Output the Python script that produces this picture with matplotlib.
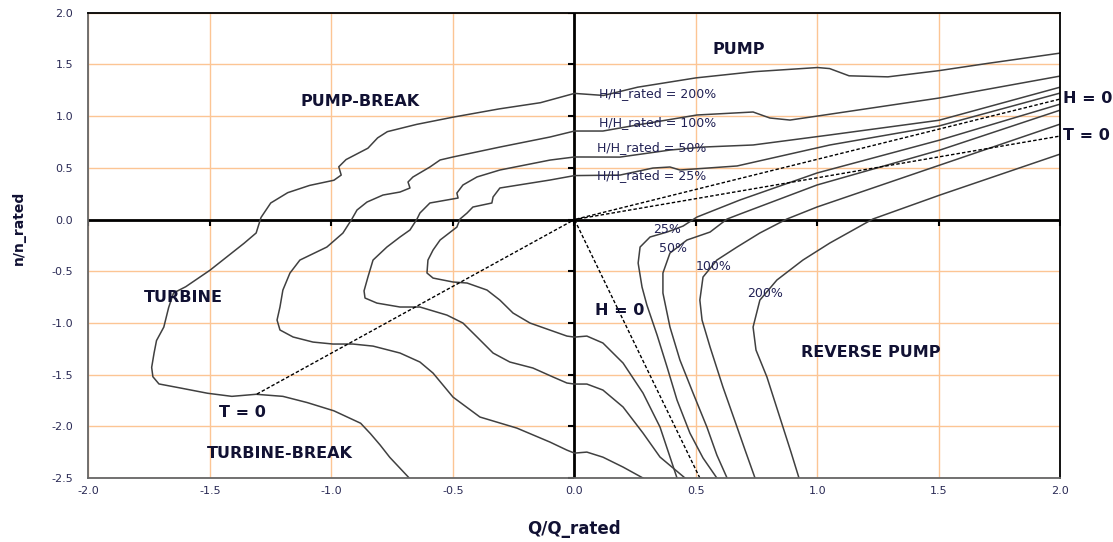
import numpy as np
import matplotlib
matplotlib.use("Agg")
import matplotlib.pyplot as plt

plt.rcParams['font.family'] = ['DejaVu Sans']

# iso-head curves, pump side (Q/Q_rated, n/n_rated)
q_200 = [2.00, 1.70, 1.50, 1.29, 1.13, 1.05, 1.00, 0.74, 0.50, 0.26, 0.12, 0.00, -0.14, -0.31,
         -0.50, -0.65, -0.77, -0.81, -0.85, -0.94, -0.97, -0.96, -0.99, -1.09, -1.18, -1.25,
         -1.29, -1.31, -1.36, -1.43, -1.50, -1.60, -1.65, -1.67, -1.69, -1.72, -1.73, -1.74,
         -1.735, -1.71, -1.62, -1.51, -1.41, -1.31, -1.20, -1.10, -0.99, -0.88, -0.84, -0.80,
         -0.76, -0.68]
n_200 = [1.61, 1.51, 1.44, 1.38, 1.39, 1.46, 1.47, 1.43, 1.37, 1.28, 1.20, 1.22, 1.13, 1.07,
         0.99, 0.92, 0.85, 0.79, 0.69, 0.58, 0.51, 0.43, 0.38, 0.33, 0.26, 0.16,
         0.02, -0.13, -0.23, -0.36, -0.49, -0.65, -0.71, -0.85, -1.04, -1.17, -1.29, -1.43,
         -1.52, -1.59, -1.63, -1.68, -1.71, -1.69, -1.71, -1.77, -1.85, -1.97, -2.07, -2.18,
         -2.30, -2.50]

q_100 = [2.00, 1.50, 1.00, 0.887, 0.804, 0.735, 0.504, 0.257, 0.117, 0.00, -0.101, -0.307,
         -0.50, -0.553, -0.595, -0.665, -0.685, -0.677, -0.718, -0.788, -0.854, -0.895,
         -0.916, -0.953, -1.019, -1.130, -1.171, -1.200, -1.212, -1.224, -1.212, -1.158,
         -1.076, -0.994, -0.912, -0.829, -0.718, -0.636, -0.582, -0.50, -0.389, -0.237,
         -0.101, -0.031, 0.00, 0.051, 0.117, 0.200, 0.282]
n_100 = [1.388, 1.175, 1.001, 0.962, 0.982, 1.040, 1.011, 0.914, 0.856, 0.856, 0.798, 0.701,
         0.605, 0.576, 0.508, 0.411, 0.363, 0.305, 0.266, 0.237, 0.169, 0.092,
         0.005, -0.131, -0.266, -0.392, -0.518, -0.682, -0.846, -0.972, -1.068, -1.136,
         -1.185, -1.204, -1.204, -1.224, -1.291, -1.378, -1.485, -1.717, -1.910, -2.017,
         -2.152, -2.230, -2.259, -2.249, -2.298, -2.394, -2.50]

q_50 = [2.00, 1.50, 1.051, 0.735, 0.529, 0.393, 0.187, 0.00, -0.101, -0.307, -0.401, -0.459,
        -0.484, -0.479, -0.525, -0.595, -0.636, -0.648, -0.677, -0.718, -0.772, -0.829,
        -0.850, -0.866, -0.862, -0.813, -0.718, -0.636, -0.525, -0.459, -0.401, -0.335,
        -0.266, -0.171, -0.088, -0.031, 0.00, 0.051, 0.117, 0.200, 0.282, 0.352, 0.455]
n_50 = [1.281, 0.96, 0.818, 0.721, 0.701, 0.672, 0.604, 0.605, 0.575, 0.479, 0.412, 0.334,
        0.256, 0.208, 0.189, 0.160, 0.063, 0.005, -0.101, -0.169, -0.266, -0.392,
        -0.556, -0.69, -0.759, -0.808, -0.846, -0.846, -0.924, -1.001, -1.136, -1.291,
        -1.378, -1.436, -1.523, -1.581, -1.591, -1.591, -1.649, -1.813, -2.065, -2.297, -2.50]

q_25 = [2.00, 1.50, 1.051, 0.669, 0.434, 0.393, 0.323, 0.187, 0.00, -0.101, -0.307, -0.335,
        -0.340, -0.418, -0.442, -0.471, -0.484, -0.50, -0.553, -0.582, -0.603, -0.607,
        -0.582, -0.50, -0.442, -0.360, -0.307, -0.253, -0.183, -0.101, -0.031, 0.00,
        0.051, 0.117, 0.200, 0.282, 0.352, 0.422]
n_25 = [1.224, 0.905, 0.721, 0.518, 0.479, 0.508, 0.498, 0.430, 0.425, 0.382, 0.305, 0.218,
        0.160, 0.121, 0.063, 0.005, -0.073, -0.102, -0.198, -0.295, -0.392, -0.517,
        -0.566, -0.604, -0.614, -0.682, -0.779, -0.904, -1.001, -1.069, -1.127, -1.137,
        -1.127, -1.194, -1.388, -1.678, -2.007, -2.50]

# iso-head curves, reverse pump side
qr_25 = [2.00, 1.504, 0.998, 0.681, 0.504, 0.447, 0.381, 0.311, 0.270, 0.262, 0.278, 0.298,
         0.340, 0.381, 0.422, 0.475, 0.529, 0.586]
nr_25 = [1.117, 0.769, 0.450, 0.189, 0.024, -0.063, -0.121, -0.169, -0.266, -0.421, -0.653,
         -0.827, -1.117, -1.426, -1.746, -2.065, -2.306, -2.50]

qr_50 = [2.00, 1.504, 0.998, 0.681, 0.628, 0.558, 0.463, 0.393, 0.364, 0.364, 0.393, 0.434,
         0.488, 0.545, 0.586, 0.628]
nr_50 = [1.059, 0.672, 0.334, 0.053, 0.005, -0.121, -0.198, -0.324, -0.517, -0.711, -1.040,
         -1.359, -1.678, -2.007, -2.278, -2.50]

qr_100 = [2.00, 1.504, 0.998, 0.874, 0.763, 0.669, 0.586, 0.529, 0.516, 0.525, 0.558, 0.611,
          0.669, 0.702, 0.743]
nr_100 = [0.924, 0.527, 0.121, 0.005, -0.130, -0.266, -0.392, -0.556, -0.779, -0.972, -1.233,
          -1.620, -2.007, -2.229, -2.50]

qr_200 = [2.00, 1.504, 1.228, 1.051, 0.940, 0.833, 0.763, 0.735, 0.747, 0.792, 0.858, 0.891, 0.924]
nr_200 = [0.634, 0.237, 0.005, -0.227, -0.392, -0.585, -0.779, -1.040, -1.262, -1.523, -2.007,
          -2.249, -2.50]

# zero head / zero torque lines
q_h0 = [0.516, 0.0, 2.0]
n_h0 = [-2.5, 0.0, 1.166]
q_t0 = [-1.307, 0.0, 2.0]
n_t0 = [-1.688, 0.0, 0.808]

ticks_q = np.arange(-2.0, 2.01, 0.5)
ticks_n = np.arange(-2.5, 2.01, 0.5)

fig = plt.figure(figsize=(11.13, 5.42), dpi=100)
ax = fig.add_axes([0.0795, 0.118, 0.8733, 0.8585])
ax.set_xlim(-2, 2)
ax.set_ylim(-2.5, 2)
ax.set_xticks(ticks_q)
ax.set_yticks(ticks_n)
ax.set_xticklabels([f"{v:.1f}" for v in ticks_q])
ax.set_yticklabels([f"{v:.1f}" for v in ticks_n])
ax.tick_params(length=0, labelsize=8, labelcolor='#2a2a55')
ax.tick_params(axis='x', pad=6)
ax.tick_params(axis='y', pad=11)
ax.grid(True, color='#fcc594', lw=1)
ax.set_axisbelow(True)
for s in ['left', 'bottom']:
    ax.spines[s].set_color('#666666')
for s in ['top', 'right']:
    ax.spines[s].set_color('black')
for s in ax.spines.values():
    s.set_linewidth(1.3)

# centre axes with their own tick marks
ax.axhline(0, color='black', lw=2)
ax.axvline(0, color='black', lw=2)
ax.plot(ticks_q, np.zeros_like(ticks_q), ls='none', marker=3, ms=4, mew=1.5, color='black')
ax.plot(np.zeros_like(ticks_n), ticks_n, ls='none', marker=0, ms=4, mew=1.5, color='black')

curve_col = '#404040'
for q, n in [(q_200, n_200), (q_100, n_100), (q_50, n_50), (q_25, n_25),
             (qr_25, nr_25), (qr_50, nr_50), (qr_100, nr_100), (qr_200, nr_200)]:
    ax.plot(q, n, color=curve_col, lw=1.1, solid_joinstyle='round')
ax.plot(q_h0, n_h0, color='black', lw=1, ls=(0, (2.5, 1.5)))
ax.plot(q_t0, n_t0, color='black', lw=1, ls=(0, (2.5, 1.5)))

bold = dict(fontsize=11.5, fontweight='bold', color='#111133', ha='center', va='center')
ax.text(0.677, 1.64, 'PUMP', **bold)
ax.text(-0.883, 1.146, 'PUMP-BREAK', **bold)
ax.text(-1.609, -0.754, 'TURBINE', **bold)
ax.text(-1.368, -1.867, 'T = 0', **bold)
ax.text(-1.212, -2.263, 'TURBINE-BREAK', **bold)
ax.text(0.187, -0.875, 'H = 0', **bold)
ax.text(1.22, -1.286, 'REVERSE PUMP', **bold)
ax.text(2.012, 1.166, 'H = 0', clip_on=False, **{**bold, 'ha': 'left'})
ax.text(2.012, 0.808, 'T = 0', clip_on=False, **{**bold, 'ha': 'left'})

small = dict(fontsize=9, color='#222255', va='center')
ax.text(0.101, 1.22, 'H/H_rated = 200%', ha='left', **small)
ax.text(0.101, 0.94, 'H/H_rated = 100%', ha='left', **small)
ax.text(0.093, 0.698, 'H/H_rated = 50%', ha='left', **small)
ax.text(0.093, 0.43, 'H/H_rated = 25%', ha='left', **small)
ax.text(0.381, -0.095, '25%', ha='center', **small)
ax.text(0.405, -0.279, '50%', ha='center', **small)
ax.text(0.572, -0.456, '100%', ha='center', **small)
ax.text(0.786, -0.714, '200%', ha='center', **small)

fig.text(0.5157, 0.024, 'Q/Q_rated', fontsize=12, fontweight='bold', color='#111133',
         ha='center', va='center')
fig.text(0.017, 0.58, 'n/n_rated', fontsize=10, fontweight='bold', color='#111133',
         ha='center', va='center', rotation=90)

fig.savefig('out.png', dpi=100)
